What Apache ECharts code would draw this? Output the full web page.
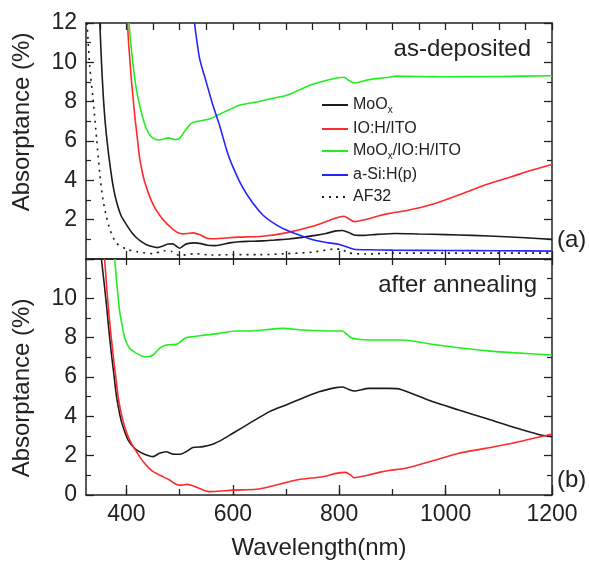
<!DOCTYPE html>
<html>
<head>
<meta charset="UTF-8">
<title>Absorptance</title>
<style>
  * { margin: 0; padding: 0; }
  #chart { width: 589px; height: 569px; background: #fff; }
</style>
</head>
<body>
<div id="chart"></div>
<script src="https://cdn.jsdelivr.net/npm/echarts@6/dist/echarts.min.js"></script>
<script>
// series names (legend)
var names = ['MoOx', 'IO:H/ITO', 'MoOx/IO:H/ITO', 'a-Si:H(p)', 'AF32'];

// tick positions on the wavelength axis
var xLabels = [400, 600, 800, 1000, 1200];
var xTicks = [400, 500, 600, 700, 800, 900, 1000, 1100, 1200];
var xTicksFine = [350, 400, 450, 500, 550, 600, 650, 700, 750, 800, 850, 900, 950, 1000, 1050, 1100, 1150, 1200];

// (a) as-deposited : [wavelength nm, absorptance %]
var mooxDep = [[350,12],[354,9.5],[359,7.3],[364,5.9],[369,4.8],[375,3.7],[381,2.95],[390,2.2],[400,1.75],[410,1.35],
  [419,1.08],[428,0.88],[437,0.74],[450,0.62],[458,0.58],[468,0.65],[478,0.76],[487,0.77],[494,0.65],[500,0.55],
  [506,0.65],[513,0.77],[528,0.82],[540,0.78],[552,0.7],[565,0.68],[580,0.74],[594,0.82],[612,0.88],[631,0.9],
  [656,0.92],[680,0.97],[706,1.02],[730,1.1],[756,1.2],[775,1.3],[794,1.43],[806,1.45],[818,1.35],[828,1.22],
  [845,1.2],[870,1.25],[906,1.3],[950,1.27],[1000,1.24],[1050,1.2],[1113,1.13],[1150,1.08],[1200,1.0]];
var ioDep = [[402,12],[404,11],[406,10.3],[409,9.2],[412.5,8.2],[416,7.2],[419,6.5],[425,5.1],[430,4.4],[434,3.95],
  [442,3.3],[450,2.78],[458,2.4],[466,2.1],[474,1.85],[481,1.67],[490,1.45],[497,1.33],[506,1.28],[515,1.3],
  [525,1.33],[537,1.25],[546,1.12],[553,1.04],[569,1.03],[588,1.07],[612,1.11],[656,1.16],[700,1.33],[750,1.66],
  [794,2.08],[809,2.17],[818,2.05],[828,1.9],[856,2.05],[875,2.2],[894,2.32],[925,2.45],[975,2.78],[1025,3.26],
  [1075,3.77],[1125,4.19],[1160,4.5],[1200,4.8]];
var stackDep = [[405,12],[408,11],[412.5,9.86],[417,8.9],[422,8.17],[431,7.16],[440,6.48],[450,6.15],[462,6.05],[470,6.1],
  [478,6.16],[485,6.12],[491,6.07],[500,6.13],[509,6.48],[522,6.9],[537,7.02],[556,7.12],[575,7.36],[594,7.6],
  [612,7.82],[631,7.92],[656,8.05],[680,8.2],[700,8.31],[725,8.6],[750,8.88],[775,9.08],[794,9.19],[809,9.24],
  [820,9.05],[830,8.95],[856,9.12],[894,9.24],[906,9.3],[950,9.28],[1000,9.27],[1100,9.28],[1200,9.32]];
var asiDep = [[528,12],[537.5,10.2],[550,9.0],[562.5,7.83],[575,6.8],[587.5,5.62],[594,5.1],[600,4.7],[612.5,3.95],[631,3.1],
  [656,2.25],[681,1.75],[706,1.41],[731,1.16],[756,0.94],[781,0.82],[800,0.74],[819,0.57],[831,0.48],[856,0.47],
  [900,0.45],[1000,0.43],[1100,0.42],[1200,0.4]];
var af32Dep = [[326,12],[331,9.8],[337,8.2],[344,6.1],[350,4.3],[356,3.0],[362,2.2],[369,1.5],[381,0.82],[400,0.5],
  [420,0.37],[450,0.27],[470,0.42],[485,0.38],[500,0.18],[530,0.27],[560,0.2],[600,0.22],[650,0.22],[700,0.27],
  [750,0.35],[790,0.5],[805,0.5],[815,0.32],[850,0.25],[900,0.3],[1000,0.3],[1100,0.3],[1200,0.3]];

// (b) after annealing
var mooxAnn = [[353,12],[358,10.8],[362.5,9.66],[367,8.4],[372,7.12],[377,6.0],[381,5.08],[386,4.3],[390.6,3.73],[397,3.2],
  [403,2.8],[411,2.5],[419,2.29],[434,2.07],[450,1.95],[462,2.12],[475,2.2],[487,2.08],[500,2.07],[512,2.2],
  [525,2.41],[544,2.46],[562,2.58],[581,2.83],[600,3.14],[631,3.64],[669,4.24],[700,4.58],[731,4.92],[762,5.25],
  [794,5.46],[806,5.49],[817,5.38],[828,5.29],[856,5.42],[894,5.42],[916,5.37],[975,4.75],[1025,4.32],[1075,3.9],
  [1125,3.47],[1175,3.08],[1200,2.97]];
var ioAnn = [[359,12],[362,10.9],[365.6,9.66],[370,8.4],[375,7.12],[380,6.0],[384,5.08],[389,4.3],[394,3.73],[400,3.2],
  [406,2.8],[412,2.5],[419,2.2],[426,1.9],[434,1.61],[442,1.38],[450,1.19],[460,1.05],[469,0.93],[481,0.76],
  [490,0.6],[497,0.51],[505,0.5],[512.5,0.54],[525,0.47],[533,0.38],[541,0.29],[556,0.17],[575,0.2],[600,0.25],
  [644,0.29],[669,0.42],[700,0.64],[731,0.81],[769,0.93],[794,1.1],[812,1.15],[820,1.05],[828,0.88],[856,1.02],
  [875,1.15],[894,1.25],[925,1.36],[975,1.73],[1025,2.12],[1075,2.37],[1125,2.63],[1200,3.1]];
var stackAnn = [[378,12],[381,11],[384,10.17],[387,9.4],[390.6,8.81],[397,7.97],[406,7.46],[419,7.2],[430,7.06],[437.5,7.03],
  [450,7.12],[462,7.46],[475,7.63],[494,7.66],[503,7.83],[512,8.0],[525,8.05],[550,8.14],[575,8.22],[606,8.34],
  [631,8.34],[660,8.4],[694,8.47],[731,8.39],[794,8.34],[806,8.34],[815,8.15],[825,7.97],[856,7.88],[919,7.88],
  [975,7.66],[1025,7.49],[1075,7.34],[1125,7.24],[1200,7.12]];

var colors = ['#1c1c1c', '#ff2a2a', '#22ee22', '#2424ff', '#1c1c1c'];
var font = 'Liberation Sans, Arial, sans-serif';
var ink = '#222';

var chart = echarts.init(document.getElementById('chart'));

function xAxisOf(grid, pos, ticks, len, labels, line) {
    return {
        type: 'value', gridIndex: grid, position: pos, min: 324, max: 1200,
        axisLine: { show: line, onZero: false, lineStyle: { color: ink, width: 1.5 } },
        axisTick: { show: true, inside: true, length: len, customValues: ticks, lineStyle: { color: ink, width: 1.3 } },
        axisLabel: labels ? {
            show: true, customValues: labels, margin: 8, fontSize: 23, color: ink, fontFamily: font,
            formatter: function (v) { return String(v); }
        } : { show: false },
        splitLine: { show: false }
    };
}

function yAxisOf(grid, pos, hide) {
    return {
        type: 'value', gridIndex: grid, position: pos, min: 0, max: 12, interval: 2,
        axisLine: { show: true, onZero: false, lineStyle: { color: ink, width: 1.5 } },
        axisTick: { show: true, inside: true, length: 8, lineStyle: { color: ink, width: 1.3 } },
        minorTick: { show: true, splitNumber: 2, length: 5, lineStyle: { color: ink, width: 1.2 } },
        axisLabel: pos === 'left' ? {
            show: true, margin: 9, fontSize: 23, color: ink, fontFamily: font,
            formatter: function (v) { return v === hide ? '' : String(v); }
        } : { show: false },
        splitLine: { show: false }
    };
}

function line(name, data, xi, yi, dashed) {
    var i = names.indexOf(name);
    return {
        name: name, type: 'line', xAxisIndex: xi, yAxisIndex: yi, data: data,
        symbol: 'none', smooth: 0.25, clip: true,
        lineStyle: { color: colors[i], width: 1.6, type: dashed ? [2, 5] : 'solid' },
        itemStyle: { color: colors[i] }
    };
}

var option = {
    animation: false,
    backgroundColor: '#fff',
    grid: [
        { left: 86, right: 37, top: 23, height: 236 },
        { left: 86, right: 37, top: 259, height: 236 }
    ],
    xAxis: [
        xAxisOf(0, 'bottom', xTicks, 8, null, true),
        xAxisOf(0, 'top', xTicksFine, 7, null, true),
        Object.assign(xAxisOf(1, 'bottom', xLabels, 10, xLabels, true), {
            name: 'Wavelength(nm)', nameLocation: 'middle', nameGap: 41,
            nameTextStyle: { fontSize: 24, color: ink, fontFamily: font }
        }),
        xAxisOf(1, 'bottom', xTicks, 6, null, false),
        xAxisOf(1, 'top', xTicks, 6, null, true)
    ],
    yAxis: [
        yAxisOf(0, 'left', 0),
        yAxisOf(0, 'right', 0),
        yAxisOf(1, 'left', 12),
        yAxisOf(1, 'right', 12)
    ],
    legend: {
        data: names, orient: 'vertical', left: 316, top: 92, itemGap: 6,
        itemWidth: 26, itemHeight: 14, selectedMode: false,
        itemStyle: { opacity: 0 },
        formatter: function (n) {
            return n.split('MoOx').map(function (p) { return p ? '{n|' + p + '}' : ''; }).join('{n|MoO}{s|x}');
        },
        textStyle: {
            color: ink, fontFamily: font,
            rich: {
                n: { fontSize: 16, lineHeight: 20, color: ink, fontFamily: font },
                s: { fontSize: 10, lineHeight: 10, verticalAlign: 'bottom', color: ink, fontFamily: font }
            }
        }
    },
    graphic: [
        { type: 'text', x: 531, y: 49, style: { text: 'as-deposited', fontSize: 24, fontFamily: font, fill: ink, align: 'right', verticalAlign: 'middle' } },
        { type: 'text', x: 537, y: 285, style: { text: 'after annealing', fontSize: 24, fontFamily: font, fill: ink, align: 'right', verticalAlign: 'middle' } },
        { type: 'text', x: 557, y: 240, style: { text: '(a)', fontSize: 24, fontFamily: font, fill: ink, align: 'left', verticalAlign: 'middle' } },
        { type: 'text', x: 557, y: 480, style: { text: '(b)', fontSize: 24, fontFamily: font, fill: ink, align: 'left', verticalAlign: 'middle' } },
        { type: 'text', x: 22, y: 122, rotation: Math.PI / 2, style: { text: 'Absorptance (%)', fontSize: 24, fontFamily: font, fill: ink, align: 'center', verticalAlign: 'middle' } },
        { type: 'text', x: 22, y: 388, rotation: Math.PI / 2, style: { text: 'Absorptance (%)', fontSize: 24, fontFamily: font, fill: ink, align: 'center', verticalAlign: 'middle' } }
    ],
    series: [
        line('MoOx', mooxDep, 0, 0),
        line('IO:H/ITO', ioDep, 0, 0),
        line('MoOx/IO:H/ITO', stackDep, 0, 0),
        line('a-Si:H(p)', asiDep, 0, 0),
        line('AF32', af32Dep, 0, 0, true),
        line('MoOx', mooxAnn, 2, 2),
        line('IO:H/ITO', ioAnn, 2, 2),
        line('MoOx/IO:H/ITO', stackAnn, 2, 2)
    ]
};

chart.setOption(option);
</script>
</body>
</html>
